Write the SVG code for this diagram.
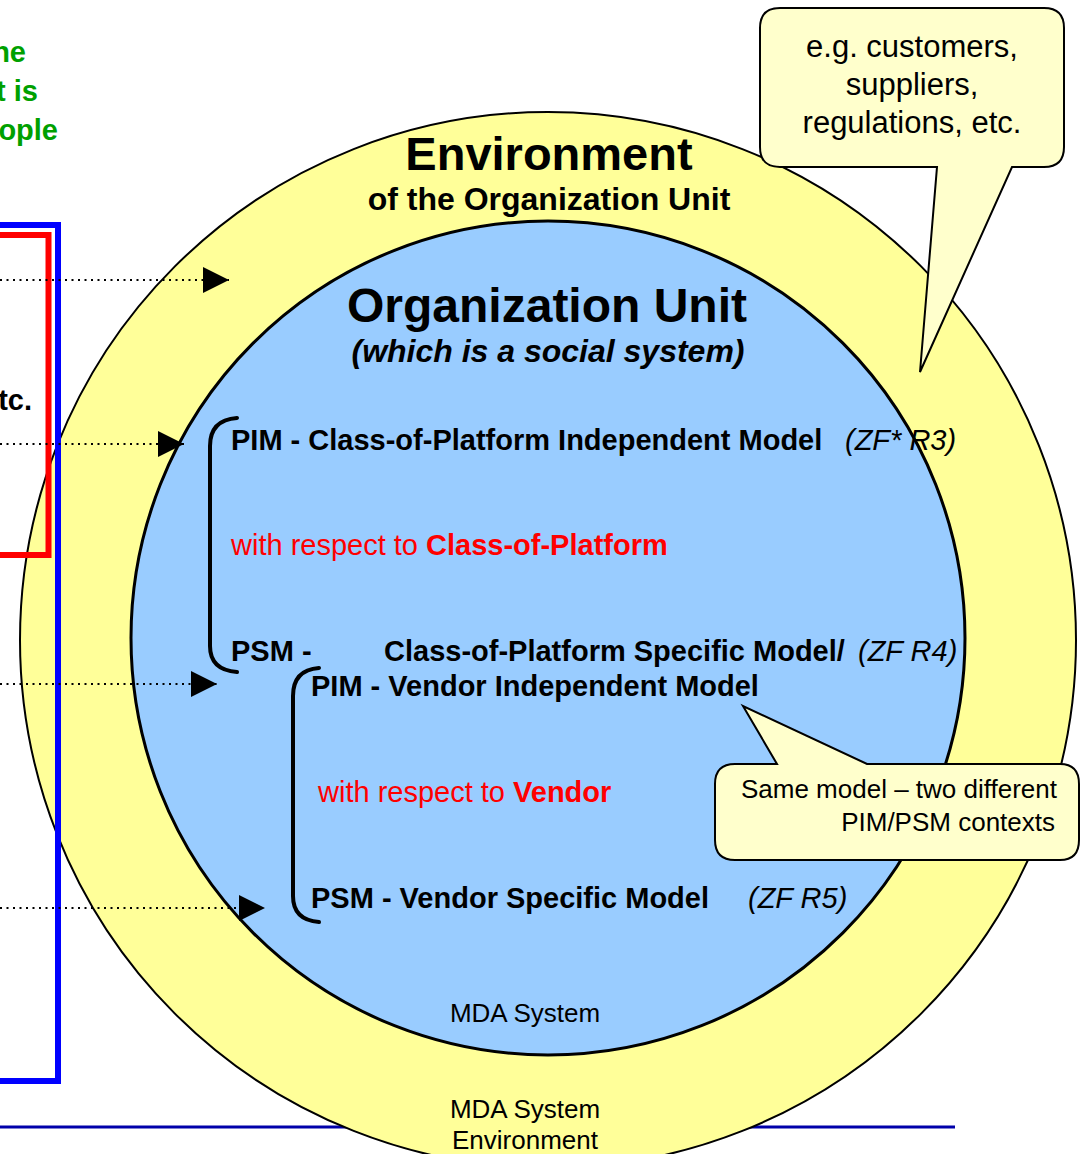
<svg xmlns="http://www.w3.org/2000/svg" width="1081" height="1154" viewBox="0 0 1081 1154">
<defs>
<style>
text{font-family:"Liberation Sans",Arial,sans-serif;}
.b{font-weight:bold;}
.i{font-style:italic;}
.m{font-size:29px;fill:#000;}
.red{fill:#FF0000;}
.grn{fill:#00A000;font-weight:bold;font-size:29px;}
.call{fill:#FFFFCC;stroke:#000;stroke-width:2;}
.brk{fill:none;stroke:#000;stroke-width:4;stroke-linecap:round;}
.dot{stroke:#000;stroke-width:2;stroke-dasharray:2 4.5;fill:none;}
</style>
<marker id="ah" markerUnits="userSpaceOnUse" markerWidth="27" markerHeight="27" refX="26" refY="13" orient="auto" viewBox="0 0 27 27">
<path d="M0,0 L26,13 L0,26 Z" fill="#000"/>
</marker>
</defs>
<rect width="1081" height="1154" fill="#fff"/>
<line x1="0" y1="1127" x2="955" y2="1127" stroke="#0000AA" stroke-width="3"/>
<g id="environment">
<circle cx="548" cy="640" r="528" fill="#FFFF99" stroke="#000" stroke-width="2"/>
<text x="549" y="170" text-anchor="middle" class="b" font-size="47">Environment</text>
<text x="549" y="210" text-anchor="middle" class="b" font-size="32">of the Organization Unit</text>
<text x="525" y="1118" text-anchor="middle" font-size="26">MDA System</text>
<text x="525" y="1149" text-anchor="middle" font-size="26">Environment</text>
</g>
<g id="org-unit">
<circle cx="548" cy="638" r="417" fill="#99CCFF" stroke="#000" stroke-width="3"/>
<text x="547" y="322" text-anchor="middle" class="b" font-size="48">Organization Unit</text>
<text x="548" y="362" text-anchor="middle" class="b i" font-size="32">(which is a social system)</text>
<text x="525" y="1022" text-anchor="middle" font-size="26">MDA System</text>
</g>
<g id="platform-models">
<path class="brk" d="M237,418 Q210,420 210,446 V646 Q210,670 237,672"/>
<text x="231" y="450" class="m b">PIM - Class-of-Platform Independent Model</text>
<text x="845" y="450" class="m i">(ZF* R3)</text>
<text x="231" y="555" class="m red">with respect to <tspan class="b">Class-of-Platform</tspan></text>
<text x="231" y="661" class="m b">PSM -</text>
<text x="384" y="661" class="m b">Class-of-Platform Specific Model/</text>
<text x="858" y="661" class="m i">(ZF R4)</text>
</g>
<g id="vendor-models">
<path class="brk" d="M319,668 Q293,670 293,696 V896 Q293,920 319,922"/>
<text x="311" y="696" class="m b">PIM - Vendor Independent Model</text>
<text x="318" y="802" class="m red">with respect to <tspan class="b">Vendor</tspan></text>
<text x="311" y="908" class="m b">PSM - Vendor Specific Model</text>
<text x="748" y="908" class="m i">(ZF R5)</text>
</g>
<g id="left-panel">
<text x="26" y="62" text-anchor="end" class="grn">he</text>
<text x="38" y="101" text-anchor="end" class="grn">t is</text>
<text x="58" y="140" text-anchor="end" class="grn">ople</text>
<text x="32" y="410" text-anchor="end" class="m b">tc.</text>
<rect x="-10" y="235" width="58.5" height="320" fill="none" stroke="#FF0000" stroke-width="6"/>
<rect x="-10" y="225" width="68" height="856" fill="none" stroke="#0000FF" stroke-width="6"/>
</g>
<g id="connectors">
<line class="dot" x1="0" y1="280" x2="229" y2="280" marker-end="url(#ah)"/>
<line class="dot" x1="0" y1="444" x2="184" y2="444" marker-end="url(#ah)"/>
<line class="dot" x1="0" y1="684" x2="217" y2="684" marker-end="url(#ah)"/>
<line class="dot" x1="0" y1="908" x2="265" y2="908" marker-end="url(#ah)"/>
</g>
<g id="callout-env">
<path class="call" d="M780,8 H1044 Q1064,8 1064,28 V147 Q1064,167 1044,167 H1012 L920,372 L937,167 H780 Q760,167 760,147 V28 Q760,8 780,8 Z"/>
<text x="912" y="57" text-anchor="middle" font-size="31">e.g. customers,</text>
<text x="912" y="95" text-anchor="middle" font-size="31">suppliers,</text>
<text x="912" y="133" text-anchor="middle" font-size="31">regulations, etc.</text>
</g>
<g id="callout-same">
<path class="call" d="M735,764 H777 L743,706 L867,764 H1060 Q1079,764 1079,784 V840 Q1079,860 1060,860 H735 Q715,860 715,840 V784 Q715,764 735,764 Z"/>
<text x="1057" y="798" text-anchor="end" font-size="26">Same model – two different</text>
<text x="1055" y="831" text-anchor="end" font-size="26">PIM/PSM contexts</text>
</g>
</svg>
